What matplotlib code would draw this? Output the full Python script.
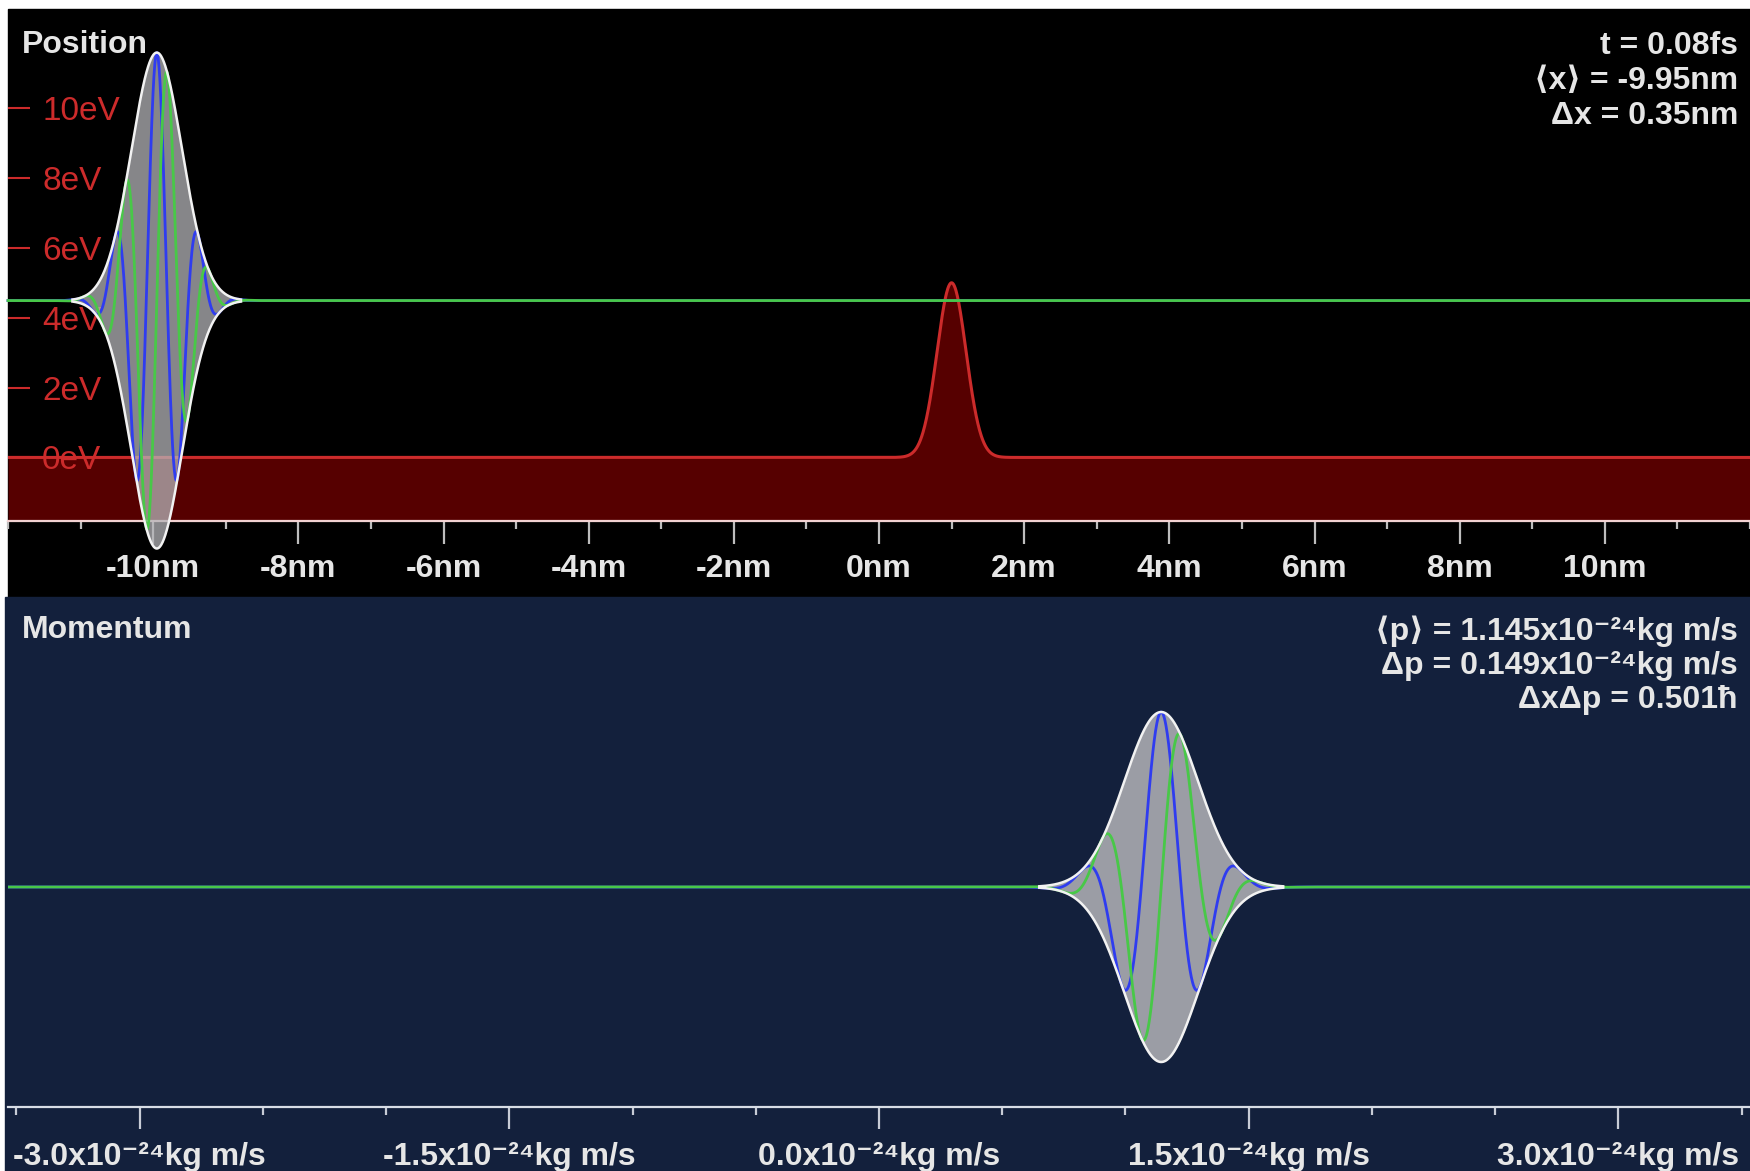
import numpy as np
import matplotlib
matplotlib.use("Agg")
import matplotlib.pyplot as plt
from matplotlib.patches import Rectangle
from matplotlib.ticker import FixedLocator, MultipleLocator

plt.rcParams['font.family'] = ['Liberation Sans', 'DejaVu Sans']

# === Readouts of the wave packet ===
t_fs = 0.08
x_mean = -9.95      # nm
x_spread = 0.35     # nm
p_mean = 1.145      # 1e-24 kg m/s
p_spread = 0.149    # 1e-24 kg m/s
uncert = 0.501      # hbar

# === Potential barrier ===
barrier_height = 5.0   # eV
barrier_center = 1.0   # nm
barrier_width = 0.2    # nm

# === Simulation box / axes ===
x_min, x_max = -12.0, 12.0
n_grid = 256
ev_ticks = [0, 2, 4, 6, 8, 10]
x_major = [-10, -8, -6, -4, -2, 0, 2, 4, 6, 8, 10]
p_major = [-3.0, -1.5, 0.0, 1.5, 3.0]

hbar = 1.0546e-34
m_e = 9.109e-31
q_e = 1.602e-19

W, H = 1750, 1171
def fx(px):
    return px / W
def fy(py):
    return 1 - py / H

# momentum range follows from the box grid spacing
dx = (x_max - x_min) / n_grid
p_lim = np.pi * hbar / (dx * 1e-9) / 1e-24
x = np.linspace(x_min, x_max, 4001)
p = np.linspace(-p_lim, p_lim, 4001)

# position-space packet
k0 = p_mean * 1e-24 / hbar * 1e-9                       # rad / nm
env_x = np.exp(-(x - x_mean) ** 2 / (2 * x_spread ** 2))
re_x = env_x * np.cos(k0 * (x - x_mean))
im_x = env_x * np.sin(k0 * (x - x_mean))

# momentum-space packet (phase measured from the box edge)
a = (x_mean - x_min) * 1e-9 * 1e-24 / hbar               # rad per 1e-24 kg m/s
env_p = np.exp(-(p - p_mean) ** 2 / (2 * p_spread ** 2))
re_p = env_p * np.cos(a * (p - p_mean))
im_p = env_p * np.sin(a * (p - p_mean))

# barrier and mean energy
V = barrier_height * np.exp(-(x - barrier_center) ** 2 / (2 * barrier_width ** 2))
e0 = (p_mean * 1e-24) ** 2 / (2 * m_e) / q_e

# colours
BLACK = "#000000"
NAVY = "#13203c"
RED = "#cc2b2b"
DARKRED = "#560000"
GREEN = "#48c848"
BLUE = "#2f3cf0"
WHITE = "#f2f2f2"
GREY = "#b4b4b8"
TXT = "#e6e6e6"

fig = plt.figure(figsize=(W / 100, H / 100), dpi=100, facecolor="white")
fig.patches.append(Rectangle((fx(8), fy(597)), 1 - fx(8), fy(9) - fy(597),
                             transform=fig.transFigure, color=BLACK, zorder=-10))
fig.patches.append(Rectangle((fx(5), 0), 1 - fx(5), fy(597),
                             transform=fig.transFigure, color=NAVY, zorder=-10))

# === Position panel ===
ax = fig.add_axes([fx(8), fy(521), 1 - fx(8), fy(9) - fy(521)])
ax.set_facecolor(BLACK)
ylo, yhi = -1.82, 12.84
amp = 7.1
ax.set_xlim(x_min, x_max)
ax.set_ylim(ylo, yhi)

ax.fill_between(x, ylo, V, color=DARKRED, lw=0, zorder=1)
ax.plot(x, V, color=RED, lw=2.2, zorder=2)

f = ax.fill_between(x, e0 - amp * env_x, e0 + amp * env_x, color=GREY, alpha=0.75, lw=0, zorder=3)
f.set_clip_on(False)
ax.plot(x, e0 + amp * re_x, color=BLUE, lw=2.0, zorder=4, clip_on=False)
ax.plot(x, e0 + amp * im_x, color=GREEN, lw=2.0, zorder=5, clip_on=False)
env_x_vis = np.where(env_x > 0.004, env_x, np.nan)
for s in (1, -1):
    ax.plot(x, e0 + s * amp * env_x_vis, color=WHITE, lw=1.8, zorder=6, clip_on=False)

for side in ("top", "right", "left"):
    ax.spines[side].set_visible(False)
ax.spines["bottom"].set_color("#f3d2d2")
ax.spines["bottom"].set_linewidth(1.6)
ax.spines["bottom"].set_zorder(2.6)

ax.set_yticks(ev_ticks)
ax.set_yticklabels([f"{v}eV" for v in ev_ticks])
ax.tick_params(axis="y", direction="in", length=15.8, width=1.5, color=RED,
               pad=-24.5, labelcolor=RED, labelsize=24)
for lab in ax.get_yticklabels():
    lab.set_ha("left")

ax.xaxis.set_major_locator(FixedLocator(x_major))
ax.xaxis.set_minor_locator(MultipleLocator(1))
ax.set_xticklabels([f"{v}nm" for v in x_major], fontweight="bold")
ax.tick_params(axis="x", which="major", length=16.5, width=1.6, color="#bdbdbd",
               pad=7, labelcolor=TXT, labelsize=23)
ax.tick_params(axis="x", which="minor", length=6, width=1.6, color="#bdbdbd")

# === Momentum panel ===
bx = fig.add_axes([fx(8), fy(1107), 1 - fx(8), fy(597) - fy(1107)])
bx.set_facecolor(NAVY)
bx.set_xlim(-p_lim, p_lim)
bx.set_ylim(-220 / 175, 290 / 175)

bx.fill_between(p, -env_p, env_p, color=GREY, alpha=0.85, lw=0, zorder=3)
bx.plot(p, re_p, color=BLUE, lw=2.0, zorder=4)
bx.plot(p, im_p, color=GREEN, lw=2.0, zorder=5)
env_p_vis = np.where(env_p > 0.004, env_p, np.nan)
for s in (1, -1):
    bx.plot(p, s * env_p_vis, color=WHITE, lw=1.8, zorder=6)

for side in ("top", "right", "left"):
    bx.spines[side].set_visible(False)
bx.spines["bottom"].set_color("#d8dde6")
bx.spines["bottom"].set_linewidth(1.6)
bx.set_yticks([])
bx.xaxis.set_major_locator(FixedLocator(p_major))
bx.xaxis.set_minor_locator(MultipleLocator(0.5))
bx.set_xticklabels([f"{v:.1f}x10⁻²⁴kg m/s" for v in p_major], fontweight="bold")
bx.tick_params(axis="x", which="major", length=16, width=1.6, color="#c8ccd6",
               pad=9, labelcolor=TXT, labelsize=23)
bx.tick_params(axis="x", which="minor", length=6, width=1.6, color="#c8ccd6")

# === Labels and readouts ===
kw = dict(color=TXT, fontsize=23, fontweight="bold", va="baseline")
fig.text(fx(22), fy(53), "Position", ha="left", **kw)
fig.text(fx(22), fy(638), "Momentum", ha="left", **kw)

fig.text(fx(1738), fy(54), f"t = {t_fs:.2f}fs", ha="right", **kw)
fig.text(fx(1738), fy(89), f"⟨x⟩ = {x_mean:.2f}nm", ha="right", **kw)
fig.text(fx(1738), fy(124), f"Δx = {x_spread:.2f}nm", ha="right", **kw)

fig.text(fx(1738), fy(640), f"⟨p⟩ = {p_mean:.3f}x10⁻²⁴kg m/s", ha="right", **kw)
fig.text(fx(1738), fy(674), f"Δp = {p_spread:.3f}x10⁻²⁴kg m/s", ha="right", **kw)
fig.text(fx(1738), fy(708), f"ΔxΔp = {uncert:.3f}ħ", ha="right", **kw)

fig.savefig("out.png", dpi=100, facecolor="white")
